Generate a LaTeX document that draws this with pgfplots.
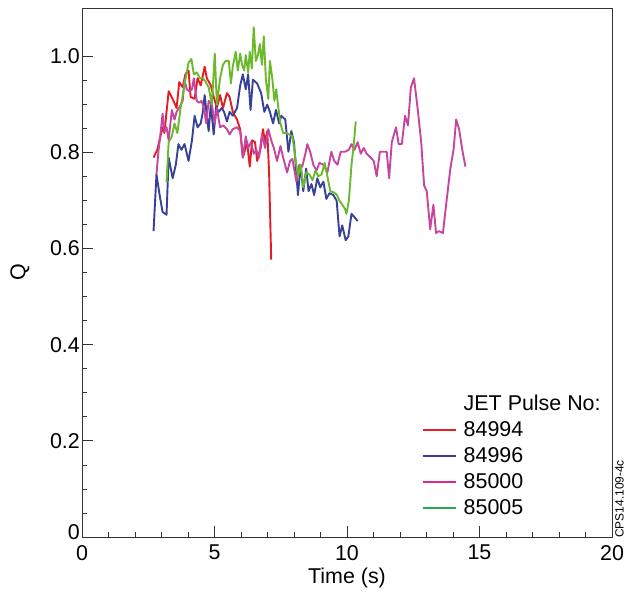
\documentclass[border=0pt]{standalone}
\usepackage{pgfplots}
\pgfplotsset{compat=1.18}
\usepackage{fontspec}
\setmainfont{Liberation Sans}
\definecolor{cred}{RGB}{230,28,36}
\definecolor{cblue}{RGB}{55,65,150}
\definecolor{cmag}{RGB}{196,70,160}
\definecolor{cgreen}{RGB}{108,185,45}
\definecolor{lred}{RGB}{232,30,36}
\definecolor{lblue}{RGB}{60,60,150}
\definecolor{lmag}{RGB}{220,40,140}
\definecolor{lgreen}{RGB}{40,170,80}
\begin{document}
\begin{tikzpicture}
\begin{axis}[
  name=main,
  scale only axis, width=530bp, height=529bp,
  xmin=0, xmax=20, ymin=0, ymax=1.1,
  xtick={0,5,10,15,20}, minor x tick num=4,
  ytick={0,0.2,0.4,0.6,0.8,1.0},
  yticklabels={\raisebox{5bp}[0.7em][0pt]{0},0.2,0.4,0.6,0.8,1.0},
  minor y tick num=3,
  tick align=inside, tick pos=left,
  major tick length=11bp, minor tick length=5.5bp,
  axis line style={black!80, line width=0.9bp},
  every tick/.style={black!80, line width=0.7bp},
  /pgf/number format/assume math mode=true,
  tick label style={font=\fontsize{21.5}{25}\selectfont},
  yticklabel style={inner sep=1bp}, yticklabel shift=1bp,
  xticklabel style={inner sep=1bp}, xticklabel shift=7bp,
  xlabel={Time (s)},
  xlabel style={font=\fontsize{21.5}{25}\selectfont, at={(axis description cs:0.5,0)}, anchor=center, yshift=-41bp},
  ylabel={Q},
  ylabel style={font=\fontsize{21.5}{25}\selectfont, at={(axis description cs:-0.117,0.5)}, anchor=center, rotate=0},
  legend cell align=left,
  legend style={draw=none, fill=none, at={(0.641,0.271)}, anchor=north west,
    font=\fontsize{21.5}{25}\selectfont, row sep=6.5bp, inner sep=0pt,
    nodes={inner sep=1.5bp}},
  legend image code/.code={\draw[#1] (0bp,0bp) -- (33bp,0bp); \path (39bp,0bp);},
  every axis plot/.append style={line width=1.9bp, line join=round},
]
\addlegendimage{empty legend}
\addlegendentry{JET Pulse No:}

% 84994 red
\addplot[cred, legend image post style={lred, line width=1.3bp}] coordinates {
(2.70,0.789)(2.84,0.805)(3.04,0.852)(3.11,0.840)(3.27,0.927)(3.42,0.911)(3.57,0.892)
(3.67,0.946)(3.80,0.935)(3.90,0.962)(4.02,0.970)(4.10,0.915)(4.25,0.911)(4.36,0.954)
(4.48,0.939)(4.63,0.978)(4.71,0.954)(4.86,0.939)(4.97,0.915)(5.09,0.892)(5.21,0.919)
(5.32,0.892)(5.47,0.923)(5.57,0.915)(5.69,0.884)(5.85,0.868)(5.97,0.848)(6.07,0.789)
(6.23,0.821)(6.33,0.770)(6.42,0.825)(6.53,0.821)(6.61,0.782)(6.73,0.805)(6.83,0.848)
(6.91,0.821)(6.99,0.844)(7.06,0.758)(7.14,0.577)
};
\addlegendentry{84994}
% 84996 blue
\addplot[cblue, legend image post style={lblue, line width=1.3bp}] coordinates {
(2.70,0.636)(2.81,0.754)(2.93,0.711)(3.04,0.676)(3.19,0.670)(3.27,0.789)(3.42,0.746)
(3.54,0.774)(3.64,0.817)(3.75,0.805)(3.87,0.817)(4.02,0.782)(4.15,0.825)(4.25,0.876)
(4.36,0.852)(4.48,0.860)(4.56,0.884)(4.63,0.919)(4.71,0.876)(4.78,0.844)(4.86,0.899)
(4.97,0.837)(5.06,0.895)(5.16,0.884)(5.27,0.892)(5.36,0.884)(5.47,0.864)(5.57,0.884)
(5.69,0.876)(5.85,0.892)(5.97,0.939)(6.07,0.962)(6.18,0.931)(6.27,0.962)(6.36,0.888)
(6.45,0.951)(6.61,0.943)(6.76,0.923)(6.88,0.884)(6.99,0.899)(7.09,0.884)(7.21,0.860)
(7.32,0.888)(7.44,0.860)(7.52,0.876)(7.67,0.868)(7.79,0.801)(7.90,0.844)(8.00,0.821)
(8.15,0.711)(8.25,0.774)(8.35,0.719)(8.46,0.766)(8.55,0.719)(8.66,0.734)(8.76,0.711)
(8.88,0.746)(8.99,0.727)(9.11,0.739)(9.22,0.703)(9.34,0.715)(9.49,0.711)(9.61,0.699)
(9.72,0.625)(9.82,0.648)(9.95,0.617)(10.05,0.625)(10.17,0.672)(10.30,0.664)(10.40,0.657)
};
\addlegendentry{84996}
% 85000 magenta
\addplot[cmag, legend image post style={lmag, line width=1.3bp}] coordinates {
(2.81,0.754)(2.89,0.805)(2.96,0.837)(3.04,0.880)(3.11,0.844)(3.19,0.852)(3.27,0.825)
(3.39,0.888)(3.49,0.868)(3.57,0.884)(3.69,0.895)(3.80,0.907)(3.87,0.951)(3.95,0.931)
(4.05,0.927)(4.15,0.931)(4.22,0.954)(4.33,0.907)(4.42,0.903)(4.51,0.907)(4.60,0.892)
(4.69,0.860)(4.78,0.907)(4.90,0.899)(5.01,0.860)(5.09,0.892)(5.21,0.852)(5.32,0.856)
(5.47,0.848)(5.57,0.837)(5.69,0.848)(5.85,0.852)(5.97,0.844)(6.07,0.789)(6.18,0.833)
(6.27,0.809)(6.38,0.821)(6.48,0.797)(6.58,0.805)(6.68,0.789)(6.79,0.837)(6.91,0.809)
(7.03,0.848)(7.14,0.825)(7.24,0.809)(7.36,0.782)(7.49,0.813)(7.59,0.789)(7.74,0.758)
(7.85,0.782)(7.94,0.786)(8.09,0.739)(8.20,0.774)(8.31,0.770)(8.43,0.797)(8.50,0.817)
(8.61,0.801)(8.73,0.774)(8.85,0.762)(8.96,0.778)(9.11,0.774)(9.26,0.758)(9.41,0.801)
(9.52,0.782)(9.64,0.774)(9.76,0.801)(9.92,0.801)(10.07,0.805)(10.17,0.817)(10.28,0.805)
(10.40,0.821)(10.52,0.797)(10.63,0.809)(10.74,0.797)(10.89,0.789)(11.01,0.782)(11.12,0.750)
(11.24,0.801)(11.39,0.801)(11.50,0.801)(11.59,0.746)(11.69,0.821)(11.85,0.852)(11.95,0.817)
(12.07,0.817)(12.19,0.876)(12.30,0.856)(12.41,0.935)(12.53,0.954)(12.68,0.884)(12.80,0.821)
(12.91,0.731)(13.01,0.719)(13.14,0.640)(13.26,0.691)(13.36,0.632)(13.47,0.636)(13.62,0.632)
(13.74,0.691)(13.90,0.766)(14.02,0.805)(14.12,0.868)(14.23,0.848)(14.35,0.805)(14.47,0.770)
};
\addlegendentry{85000}
% 85005 green
\addplot[cgreen, legend image post style={lgreen, line width=1.3bp}] coordinates {
(3.19,0.738)(3.27,0.821)(3.39,0.833)(3.49,0.860)(3.60,0.840)(3.72,0.892)(3.84,0.931)
(3.95,0.966)(4.02,0.986)(4.13,0.994)(4.22,0.962)(4.33,0.966)(4.45,0.954)(4.56,0.954)
(4.66,0.947)(4.78,0.935)(4.90,0.899)(5.01,1.005)(5.09,0.899)(5.21,0.954)(5.32,0.982)
(5.42,0.990)(5.54,0.990)(5.62,0.943)(5.69,0.978)(5.80,1.009)(5.88,0.970)(5.97,1.005)
(6.04,0.982)(6.12,0.970)(6.18,1.002)(6.27,0.966)(6.33,1.009)(6.41,0.974)(6.48,1.060)
(6.56,0.990)(6.64,1.002)(6.71,1.025)(6.79,0.982)(6.86,1.041)(6.94,0.951)(7.03,0.911)
(7.09,0.990)(7.18,0.954)(7.26,0.907)(7.33,0.931)(7.41,0.892)(7.49,0.860)(7.59,0.840)
(7.70,0.840)(7.82,0.837)(7.94,0.833)(8.05,0.789)(8.15,0.750)(8.25,0.774)(8.35,0.727)
(8.46,0.758)(8.58,0.754)(8.70,0.742)(8.81,0.762)(8.91,0.750)(9.04,0.754)(9.16,0.778)
(9.26,0.750)(9.37,0.719)(9.49,0.717)(9.61,0.712)(9.72,0.699)(9.82,0.691)(9.92,0.683)
(9.98,0.672)(10.07,0.699)(10.17,0.774)(10.25,0.813)(10.33,0.864)
};
\addlegendentry{85005}
\end{axis}
\node[rotate=90, anchor=north west, inner sep=0pt, font=\fontsize{12}{14}\selectfont]
  at ([xshift=3bp,yshift=-1bp]main.south east) {CPS14.109-4c};
\path[use as bounding box] ([xshift=-82bp,yshift=-55bp]main.south west) rectangle ([xshift=18bp,yshift=8bp]main.north east);
\end{tikzpicture}
\end{document}
